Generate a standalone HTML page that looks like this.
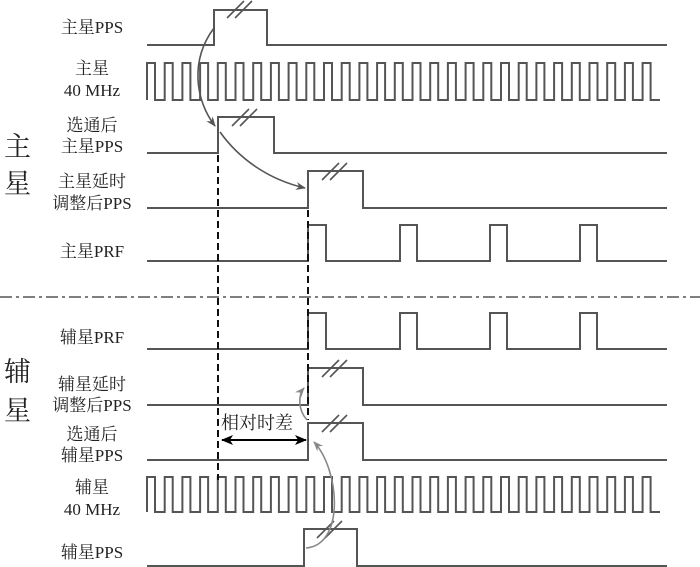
<!DOCTYPE html>
<html><head><meta charset="utf-8"><style>
html,body{margin:0;padding:0;background:#fff;}
svg{display:block;}
text{font-family:"Liberation Serif","Noto Serif CJK SC",serif;font-size:17px;fill:#222;}
</style></head><body>
<svg id="s" width="700" height="567" viewBox="0 0 700 567" xmlns="http://www.w3.org/2000/svg">
<defs>
<marker id="ag" markerWidth="10" markerHeight="8" refX="9" refY="4" orient="auto" markerUnits="userSpaceOnUse"><path d="M0,0 L10,4 L0,8 L3,4 Z" fill="#555"/></marker>
<marker id="al" markerWidth="10" markerHeight="8" refX="9" refY="4" orient="auto" markerUnits="userSpaceOnUse"><path d="M0,0 L10,4 L0,8 L3,4 Z" fill="#888"/></marker>
<marker id="ak" markerWidth="12" markerHeight="10" refX="11" refY="5" orient="auto" markerUnits="userSpaceOnUse"><path d="M0,0 L12,5 L0,10 L3,5 Z" fill="#000"/></marker>
<marker id="aks" markerWidth="12" markerHeight="10" refX="1" refY="5" orient="auto" markerUnits="userSpaceOnUse"><path d="M12,0 L0,5 L12,10 L9,5 Z" fill="#000"/></marker>
</defs>
<g fill="none" stroke="#555" stroke-width="2">
<path d="M147,45 H214 V10 H267 V45 H667"/>
<path d="M147,153 H218 V117 H274 V153 H667"/>
<path d="M147,208 H308 V171 H363 V208 H667"/>
<path d="M147,261 H308 V225 H326 V261 H400 V225 H417 V261 H490 V225 H507 V261 H580 V225 H597 V261 H667"/>
<path d="M147,349 H308 V313 H326 V349 H400 V313 H417 V349 H490 V313 H507 V349 H580 V313 H597 V349 H667"/>
<path d="M147,405 H308 V368 H363 V405 H667"/>
<path d="M147,460 H308 V423 H363 V460 H667"/>
<path d="M147,566 H304 V529 H357 V566 H667"/>
<path id="c1" d=""/>
<path id="c2" d=""/>
</g>
<g stroke="#555" stroke-width="1.6">
<line x1="227" y1="18" x2="244" y2="1"/><line x1="235" y1="18" x2="252" y2="1"/>
<line x1="232" y1="126" x2="249" y2="109"/><line x1="240" y1="126" x2="257" y2="109"/>
<line x1="322" y1="180" x2="339" y2="163"/><line x1="330" y1="180" x2="347" y2="163"/>
<line x1="322" y1="377" x2="339" y2="360"/><line x1="330" y1="377" x2="347" y2="360"/>
<line x1="322" y1="432" x2="339" y2="415"/><line x1="330" y1="432" x2="347" y2="415"/>
<line x1="317" y1="538" x2="334" y2="521"/><line x1="325" y1="538" x2="342" y2="521"/>
</g>
<line x1="0" y1="297" x2="700" y2="297" stroke="#555" stroke-width="1.5" stroke-dasharray="12,4,3,4"/>
<g stroke="#111" stroke-width="2" stroke-dasharray="7,4" fill="none">
<line x1="218" y1="155" x2="218" y2="480"/>
<line x1="308" y1="210" x2="308" y2="420"/>
</g>
<line x1="222" y1="440" x2="306" y2="440" stroke="#000" stroke-width="2" marker-start="url(#aks)" marker-end="url(#ak)"/>
<text x="221" y="429" style="font-size:18px">相对时差</text>
<g fill="none" stroke="#555" stroke-width="1.6">
<path d="M214,28 C190,60 195,100 215,126" marker-end="url(#ag)"/>
<path d="M220,132 C240,160 270,180 305,188" marker-end="url(#ag)"/>
</g>
<g fill="none" stroke="#888" stroke-width="1.6">
<path d="M307,420 C298,410 298,395 304,388" marker-end="url(#al)"/>
<path d="M306,548 C345,545 340,470 314,442" marker-end="url(#al)"/>
</g>
<g text-anchor="middle">
<text x="92" y="33">主星PPS</text>
<text x="92" y="74">主星</text><text x="92" y="96">40 MHz</text>
<text x="92" y="131">选通后</text><text x="92" y="152">主星PPS</text>
<text x="92" y="187">主星延时</text><text x="92" y="209">调整后PPS</text>
<text x="92" y="257">主星PRF</text>
<text x="92" y="343">辅星PRF</text>
<text x="92" y="390">辅星延时</text><text x="92" y="411">调整后PPS</text>
<text x="92" y="440">选通后</text><text x="92" y="461">辅星PPS</text>
<text x="92" y="493">辅星</text><text x="92" y="515">40 MHz</text>
<text x="92" y="558">辅星PPS</text>
</g>
<text x="4" y="156" style="font-size:27px">主</text><text x="4" y="193" style="font-size:27px">星</text>
<text x="4" y="381" style="font-size:27px">辅</text><text x="4" y="420" style="font-size:27px">星</text>
</svg>
<script>
function clk(id,y0,y1,x0,x1,hi,per){
 var d="M"+x0+","+y1, x=x0;
 while(x<x1){d+=" V"+y0+" H"+Math.min(x+hi,x1).toFixed(1); if(x+hi>=x1)break; d+=" V"+y1+" H"+Math.min(x+per,x1).toFixed(1); x+=per;}
 document.getElementById(id).setAttribute("d",d);
}
clk("c1",63,100,147,660,8,17.7);
clk("c2",477,512,147,660,8,17.7);
</script>
</body></html>
